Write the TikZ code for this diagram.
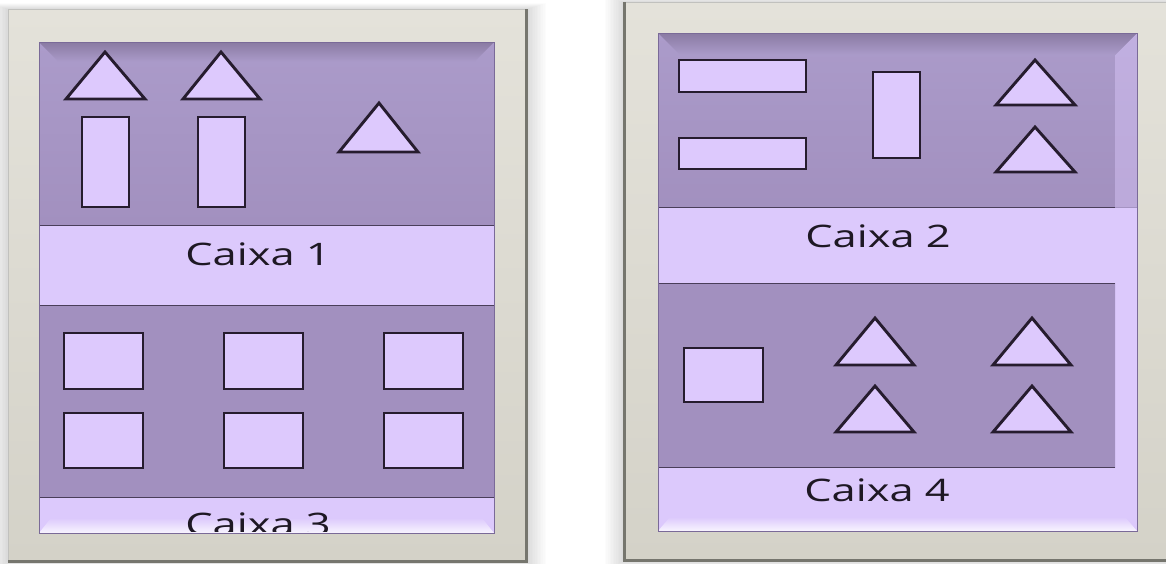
\documentclass[tikz,border=0pt]{standalone}
\usepackage{fontspec}
\newfontfamily\labfont[FakeStretch=1.4]{Open Sans}
\definecolor{frtop}{HTML}{E4E2DA}
\definecolor{frbot}{HTML}{D4D2C8}
\definecolor{frline}{HTML}{76766E}
\definecolor{dkpurp}{HTML}{AB9BCA}
\definecolor{dkpurpb}{HTML}{A290BF}
\definecolor{ltpurp}{HTML}{DCC9FC}
\definecolor{ltpurpb}{HTML}{D4C0FA}
\definecolor{shpfill}{HTML}{DDC9FD}
\definecolor{shpline}{HTML}{261C2E}
\definecolor{labtext}{HTML}{1E1824}
\definecolor{secline}{HTML}{4A3E5A}
\definecolor{inedge}{HTML}{7A6A98}
\begin{document}
\begin{tikzpicture}[x=1pt,y=-1pt,
  shp/.style={draw=shpline, fill=shpfill, line width=2.9pt, line join=miter},
  lab/.style={font=\labfont\fontsize{31}{36}\selectfont, text=labtext, inner sep=0pt, anchor=base},
  frame/.style={top color=frtop, bottom color=frbot, draw=frline!45, line width=1pt},
  darksec/.style={top color=dkpurp, bottom color=dkpurpb},
  seclinestyle/.style={draw=secline, line width=1pt}]
\useasboundingbox (0,0) rectangle (1166,563);
\fill[white] (0,0) rectangle (1166,563);
% soft shadows
\foreach \i in {1,...,12} {
  \fill[black, opacity=0.012] (8-\i*1.6, 9-\i*0.5) rectangle (527+\i*1.6, 561+\i);
  \fill[black, opacity=0.012] (624-\i*1.6, 2-\i*0.5) rectangle (1170, 560+\i);
}
% ================= LEFT BOX =================
\shade[frame] (8,9) rectangle (527,561);
\draw[frline, line width=3pt] (526,9) -- (526,561) -- (8,561);
\fill[ltpurp] (39,42) rectangle (494,533);
% top dark section
\shade[darksec] (39,42) rectangle (494,225);
\shade[top color=dkpurpb!85!black, bottom color=dkpurp] (39,42) -- (494,42) -- (474,62) -- (59,62) -- cycle;
\draw[seclinestyle] (39,225) -- (494,225);
% lower dark section
\shade[top color=dkpurpb, bottom color=dkpurpb] (39,305) rectangle (494,497);
\draw[seclinestyle] (39,305) -- (494,305);
\draw[seclinestyle] (39,497) -- (494,497);
% bottom bevel highlight
\shade[top color=ltpurp, bottom color=white!80!ltpurp] (39,533) -- (51,518) -- (482,518) -- (494,533) -- cycle;
\draw[inedge, line width=1pt] (39,42) rectangle (494,533);
% shapes
\draw[shp] (66,99) -- (105,52) -- (145,99) -- cycle;
\draw[shp] (183,99) -- (221,52) -- (260,99) -- cycle;
\draw[shp] (82,117) rectangle (129,207);
\draw[shp] (198,117) rectangle (245,207);
\draw[shp] (339,152) -- (379,103) -- (418,152) -- cycle;
\foreach \x in {64,224,384} {
  \draw[shp] (\x,333) rectangle ++(79,56);
  \draw[shp] (\x,413) rectangle ++(79,55);
}
\node[lab] (c1) at (258,265) {Caixa 1};
\begin{scope}
  \clip (39,498) rectangle (494,531);
  \node[lab] (c3) at (258,535) {Caixa 3};
\end{scope}
% ================= RIGHT BOX =================
\shade[frame] (624,2) rectangle (1172,560);
\draw[frline, line width=3pt] (624,2) -- (624,560) -- (1172,560);
\fill[ltpurp] (658,33) rectangle (1137,531);
% top dark section
\shade[darksec] (658,33) rectangle (1137,207);
\fill[ltpurp, opacity=0.45] (1137,33) -- (1115,55) -- (1115,207) -- (1137,207) -- cycle;
\shade[top color=dkpurpb!85!black, bottom color=dkpurp] (658,33) -- (1137,33) -- (1115,55) -- (680,55) -- cycle;
\draw[seclinestyle] (658,207) -- (1115,207);
% lower dark section
\shade[top color=dkpurpb, bottom color=dkpurpb] (658,283) rectangle (1115,467);
\draw[seclinestyle] (658,283) -- (1115,283);
\draw[seclinestyle] (658,467) -- (1115,467);
\shade[top color=ltpurp, bottom color=white!80!ltpurp] (658,531) -- (670,517) -- (1125,517) -- (1137,531) -- cycle;
\draw[inedge, line width=1pt] (658,33) rectangle (1137,531);
% shapes
\draw[shp] (679,60) rectangle (806,92);
\draw[shp] (679,138) rectangle (806,169);
\draw[shp] (873,72) rectangle (920,158);
\draw[shp] (996,105) -- (1035,60) -- (1075,105) -- cycle;
\draw[shp] (996,172) -- (1035,127) -- (1075,172) -- cycle;
\draw[shp] (684,348) rectangle (763,402);
\foreach \x in {875,1032} {
  \draw[shp] (\x-39,365) -- (\x,318) -- (\x+39,365) -- cycle;
  \draw[shp] (\x-39,432) -- (\x,386) -- (\x+39,432) -- cycle;
}
\node[lab] (c2) at (878,247) {Caixa 2};
\node[lab] (c4) at (877,501) {Caixa 4};
\end{tikzpicture}
\end{document}
